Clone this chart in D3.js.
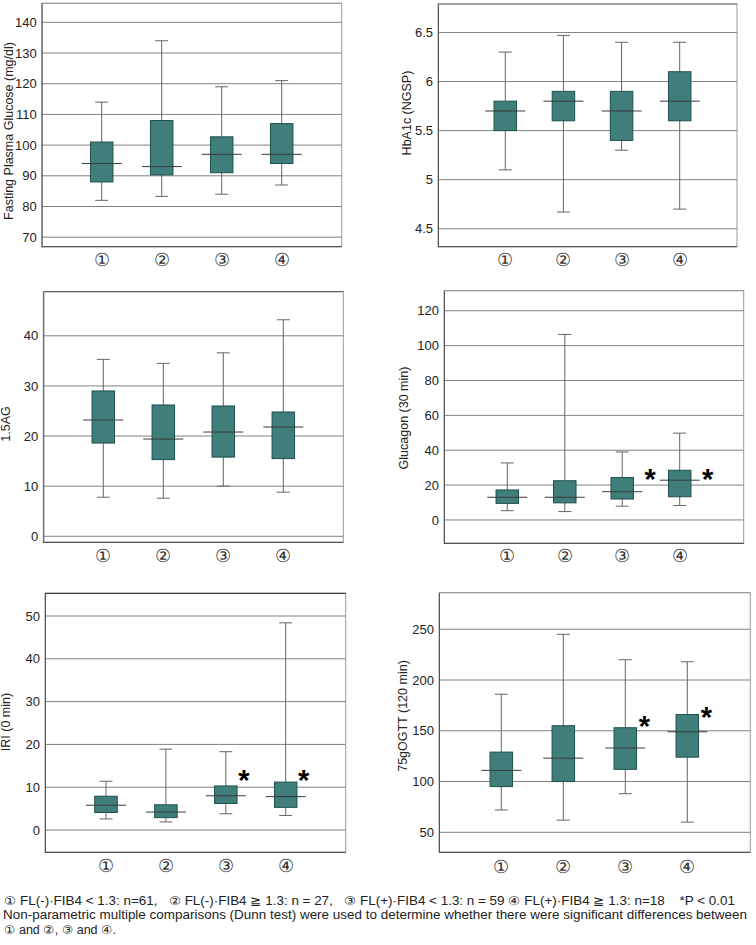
<!DOCTYPE html>
<html><head><meta charset="utf-8">
<script src="https://cdn.jsdelivr.net/npm/d3@7"></script>
<style>
html,body{margin:0;padding:0;background:#fff;}
svg{display:block;}
text{font-family:"Liberation Sans",Arial,sans-serif;}
</style></head>
<body>
<svg id="chart" width="756" height="945"></svg>
<script>
// ---------- DATA ----------
const groups = ["①", "②", "③", "④"];
// each entry: [min, Q1, median, Q3, max]
const fpgData      = [[82, 88, 94, 101, 114], [83.3, 90.3, 93, 108, 134], [84, 91, 97, 102.7, 119], [87, 94, 97, 107, 121]];
const hba1cData    = [[5.1, 5.5, 5.7, 5.8, 6.3], [4.67, 5.6, 5.8, 5.9, 6.47], [5.3, 5.4, 5.7, 5.9, 6.4], [4.7, 5.6, 5.8, 6.1, 6.4]];
const ag15Data     = [[7.8, 18.6, 23.2, 29, 35.3], [7.6, 15.3, 19.4, 26.2, 34.5], [10, 15.8, 20.8, 26, 36.6], [8.8, 15.5, 21.8, 24.8, 43.2]];
const glucagonData = [[5.3, 9.5, 13, 17.2, 32.7], [4.8, 9.8, 13, 22.5, 106.4], [7.9, 12, 16.2, 24.3, 39], [8.3, 13.3, 22.8, 28.5, 49.8]];
const iriData      = [[2.6, 4.1, 5.8, 7.9, 11.4], [1.9, 2.9, 4.2, 5.9, 18.9], [3.8, 6.2, 8, 10.3, 18.3], [3.4, 5.3, 7.8, 11.2, 48.4]];
const ogttData     = [[72, 95, 111, 129, 186], [62, 100, 123, 155, 245], [88, 112, 133, 153, 220], [60, 124, 149, 166, 218]];

const fpgTicks      = [70, 80, 90, 100, 110, 120, 130, 140];
const hba1cTicks    = [4.5, 5, 5.5, 6, 6.5];
const ag15Ticks     = [0, 10, 20, 30, 40];
const glucagonTicks = [0, 20, 40, 60, 80, 100, 120];
const iriTicks      = [0, 10, 20, 30, 40, 50];
const ogttTicks     = [50, 100, 150, 200, 250];

// significance marks (group, value level of the asterisk)
const glucagonStars = [["③", 27.7], ["④", 27.7]];
const iriStars      = [["③", 13.4], ["④", 13.4]];
const ogttStars     = [["③", 162], ["④", 170.5]];

const titles = ["Fasting Plasma Glucose (mg/dl)", "HbA1c (NGSP)", "1.5AG", "Glucagon (30 min)", "IRI (0 min)", "75gOGTT (120 min)"];
const footLine1 = "① FL(-)·FIB4 < 1.3: n=61,   ② FL(-)·FIB4 ≧ 1.3: n = 27,   ③ FL(+)·FIB4 < 1.3: n = 59 ④ FL(+)·FIB4 ≧ 1.3: n=18    *P < 0.01";
const footLine2 = "Non-parametric multiple comparisons (Dunn test) were used to determine whether there were significant differences between";
const footLine3 = "① and ②, ③ and ④.";

// ---------- LAYOUT ----------
const panels = [
  {title: titles[0], data: fpgData, ticks: fpgTicks, domain: [66.9, 146.2], stars: [],
   L: 41.7, R: 341.7, T: 3.3, B: 246.7, cx: [101.7, 281.7], labY: 260, titleX: 9, titleY: 131, starDx: 0, topC: "#9a9a9a"},
  {title: titles[1], data: hba1cData, ticks: hba1cTicks, domain: [4.317, 6.79], stars: [],
   L: 438, R: 737, T: 4, B: 246.7, cx: [505.3, 679.7], labY: 260, titleX: 407, titleY: 113, starDx: 0, topC: "#777"},
  {title: titles[2], data: ag15Data, ticks: ag15Ticks, domain: [-1.2, 48.8], stars: [],
   L: 43.3, R: 343.3, T: 291.7, B: 542.3, cx: [103.3, 283.3], labY: 555.7, titleX: 6, titleY: 424, starDx: 0, topC: "#555"},
  {title: titles[3], data: glucagonData, ticks: glucagonTicks, domain: [-13.4, 131.5], stars: glucagonStars,
   L: 444, R: 743.7, T: 290.7, B: 543.3, cx: [507.3, 679.7], labY: 555.7, titleX: 404, titleY: 418, starDx: 28, topC: "#9a9a9a"},
  {title: titles[4], data: iriData, ticks: iriTicks, domain: [-5.2, 55.3], stars: iriStars,
   L: 45, R: 345.7, T: 593.3, B: 852.3, cx: [106, 285.7], labY: 866, titleX: 6, titleY: 722, starDx: 18, topC: "#222"},
  {title: titles[5], data: ogttData, ticks: ogttTicks, domain: [30.3, 286], stars: ogttStars,
   L: 439, R: 750.3, T: 592.7, B: 852.3, cx: [501.3, 687.3], labY: 866.7, titleX: 403, titleY: 716, starDx: 19, topC: "#9a9a9a"}
];

const svg = d3.select("#chart");
const boxW = 22.5, medW = 40, capW = 13;

panels.forEach(p => {
  const g = svg.append("g");
  const y = d3.scaleLinear().domain(p.domain).range([p.B, p.T]);
  const x = d3.scalePoint().domain(groups).range(p.cx);

  // frame
  g.append("rect").attr("x", p.L).attr("y", p.T).attr("width", p.R - p.L).attr("height", p.B - p.T)
    .attr("fill", "#fff").attr("stroke", "#9a9a9a").attr("stroke-width", 1);
  g.append("line").attr("x1", p.L).attr("x2", p.R).attr("y1", p.T).attr("y2", p.T)
    .attr("stroke", p.topC).attr("stroke-width", 1);

  // grid lines
  g.append("g").selectAll("line").data(p.ticks).join("line")
    .attr("x1", p.L).attr("x2", p.R)
    .attr("y1", d => y(d)).attr("y2", d => y(d))
    .attr("stroke", "#808080").attr("stroke-width", 1);

  // y axis
  const ax = g.append("g").attr("transform", `translate(${p.L},0)`)
    .call(d3.axisLeft(y).tickValues(p.ticks).tickFormat(d => String(d)).tickSize(0).tickPadding(5));
  ax.select(".domain").attr("stroke", "#555");
  ax.selectAll("text").attr("font-size", 13).attr("fill", "#222")
    .attr("font-family", "'Liberation Sans', Arial, sans-serif");

  // bottom axis line
  g.append("line").attr("x1", p.L).attr("x2", p.R).attr("y1", p.B).attr("y2", p.B)
    .attr("stroke", "#555").attr("stroke-width", 1.2);

  // category labels
  g.append("g").selectAll("text").data(groups).join("text")
    .attr("x", d => x(d)).attr("y", p.labY).attr("text-anchor", "middle").attr("dominant-baseline", "central")
    .attr("font-size", 18).attr("fill", "#333")
    .attr("font-family", "'Noto Sans CJK JP', 'DejaVu Sans', sans-serif")
    .text(d => d);

  // y title
  g.append("text").attr("transform", `translate(${p.titleX},${p.titleY}) rotate(-90)`)
    .attr("text-anchor", "middle").attr("dominant-baseline", "central")
    .attr("font-size", 12.5).attr("fill", "#222").text(p.title);

  // boxes
  const bx = g.append("g").selectAll("g").data(p.data.map((d, i) => ({k: groups[i], v: d}))).join("g");
  bx.append("line").attr("x1", d => x(d.k)).attr("x2", d => x(d.k))
    .attr("y1", d => y(d.v[0])).attr("y2", d => y(d.v[4]))
    .attr("stroke", "#666").attr("stroke-width", 1);
  bx.append("line").attr("x1", d => x(d.k) - capW / 2).attr("x2", d => x(d.k) + capW / 2)
    .attr("y1", d => y(d.v[0])).attr("y2", d => y(d.v[0]))
    .attr("stroke", "#666").attr("stroke-width", 1);
  bx.append("line").attr("x1", d => x(d.k) - capW / 2).attr("x2", d => x(d.k) + capW / 2)
    .attr("y1", d => y(d.v[4])).attr("y2", d => y(d.v[4]))
    .attr("stroke", "#666").attr("stroke-width", 1);
  bx.append("rect").attr("x", d => x(d.k) - boxW / 2).attr("width", boxW)
    .attr("y", d => y(d.v[3])).attr("height", d => y(d.v[1]) - y(d.v[3]))
    .attr("fill", "#3f7e7a").attr("stroke", "#1f504c").attr("stroke-width", 1);
  bx.append("line").attr("x1", d => x(d.k) - medW / 2).attr("x2", d => x(d.k) + medW / 2)
    .attr("y1", d => y(d.v[2])).attr("y2", d => y(d.v[2]))
    .attr("stroke", "#3a3a3a").attr("stroke-width", 1);

  // stars
  g.append("g").selectAll("text").data(p.stars).join("text")
    .attr("x", d => x(d[0]) + p.starDx).attr("y", d => y(d[1]) + 17)
    .attr("text-anchor", "middle").attr("font-size", 29).attr("font-weight", "bold").attr("fill", "#000")
    .text("*");
});

// footer
const foot = svg.append("g").attr("font-size", 12).attr("fill", "#222");
foot.append("text").attr("x", 4).attr("y", 905).attr("xml:space", "preserve").style("white-space", "pre")
  .attr("textLength", 731).attr("lengthAdjust", "spacingAndGlyphs").text(footLine1);
foot.append("text").attr("x", 3).attr("y", 919)
  .attr("textLength", 744).attr("lengthAdjust", "spacingAndGlyphs").text(footLine2);
foot.append("text").attr("x", 4).attr("y", 933.5).attr("textLength", 112).attr("lengthAdjust", "spacingAndGlyphs").text(footLine3);
</script>
</body></html>
